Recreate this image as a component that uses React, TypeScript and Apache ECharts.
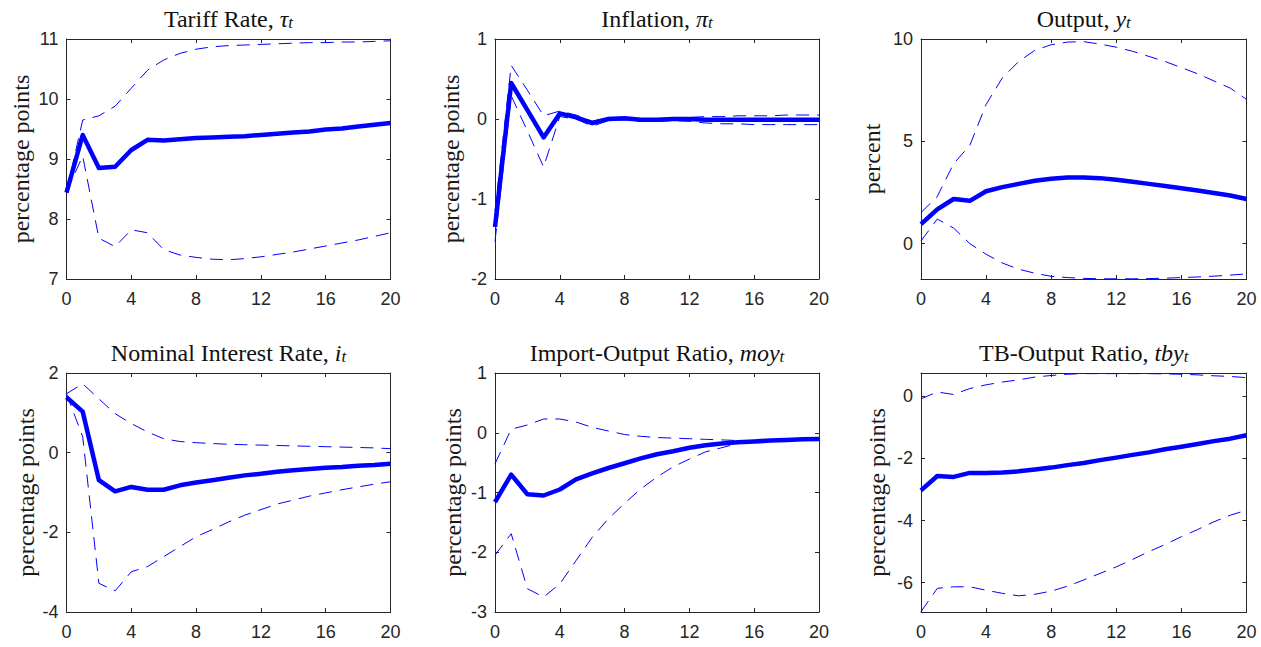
import React, { useEffect, useRef } from "react";
import * as echarts from "echarts";

// Horizon (quarters)
const horizons = [0, 1, 2, 3, 4, 5, 6, 7, 8, 9, 10, 11, 12, 13, 14, 15, 16, 17, 18, 19, 20];

// Tariff rate
const tariffMedian = [8.44, 9.40, 8.85, 8.87, 9.15, 9.32, 9.31, 9.33, 9.35, 9.36, 9.37, 9.38, 9.40, 9.42, 9.44, 9.46, 9.49, 9.51, 9.54, 9.57, 9.60];
const tariffUpper = [8.45, 9.65, 9.72, 9.88, 10.18, 10.48, 10.65, 10.76, 10.83, 10.87, 10.89, 10.90, 10.91, 10.92, 10.93, 10.94, 10.94, 10.95, 10.95, 10.96, 10.97];
const tariffLower = [8.45, 9.05, 7.68, 7.54, 7.82, 7.77, 7.49, 7.40, 7.36, 7.33, 7.32, 7.34, 7.37, 7.41, 7.45, 7.50, 7.55, 7.60, 7.65, 7.71, 7.77];
const tariffTicks = [7, 8, 9, 10, 11];

// Inflation
const inflMedian = [-1.35, 0.45, 0.11, -0.23, 0.07, 0.02, -0.05, 0.0, 0.01, -0.01, -0.01, 0.0, 0.0, -0.01, -0.01, -0.01, -0.01, -0.01, -0.01, -0.01, -0.01];
const inflUpper = [-1.15, 0.67, 0.36, 0.04, 0.1, 0.05, -0.03, 0.02, 0.02, 0.0, 0.0, 0.01, 0.02, 0.03, 0.03, 0.04, 0.04, 0.04, 0.05, 0.05, 0.05];
const inflLower = [-1.53, 0.29, -0.15, -0.6, 0.03, 0.0, -0.09, -0.02, -0.01, -0.03, -0.03, -0.02, -0.03, -0.05, -0.06, -0.06, -0.07, -0.07, -0.07, -0.07, -0.07];
const inflTicks = [-2, -1, 0, 1];

// Output
const outMedian = [0.95, 1.67, 2.18, 2.09, 2.56, 2.76, 2.92, 3.07, 3.17, 3.23, 3.23, 3.20, 3.12, 3.02, 2.92, 2.82, 2.71, 2.60, 2.47, 2.35, 2.18];
const outUpper = [1.52, 2.3, 3.9, 4.8, 6.8, 8.1, 8.9, 9.45, 9.72, 9.85, 9.87, 9.75, 9.6, 9.4, 9.15, 8.9, 8.6, 8.3, 7.95, 7.6, 7.05];
const outLower = [0.13, 1.2, 0.76, 0.0, -0.52, -0.95, -1.25, -1.45, -1.6, -1.66, -1.7, -1.72, -1.72, -1.72, -1.71, -1.69, -1.66, -1.63, -1.59, -1.54, -1.48];
const outTicks = [0, 5, 10];

// Nominal interest rate
const intMedian = [1.39, 1.03, -0.69, -0.97, -0.86, -0.93, -0.93, -0.82, -0.75, -0.69, -0.63, -0.57, -0.53, -0.48, -0.44, -0.41, -0.38, -0.36, -0.33, -0.31, -0.28];
const intUpper = [1.48, 1.73, 1.35, 0.98, 0.73, 0.52, 0.35, 0.28, 0.25, 0.23, 0.21, 0.20, 0.19, 0.18, 0.17, 0.16, 0.15, 0.14, 0.13, 0.12, 0.10];
const intLower = [1.48, 0.4, -3.28, -3.47, -2.99, -2.86, -2.61, -2.36, -2.11, -1.93, -1.74, -1.57, -1.43, -1.29, -1.19, -1.09, -1.01, -0.93, -0.86, -0.79, -0.73];
const intTicks = [-4, -2, 0, 2];

// Import-output ratio
const moyMedian = [-1.16, -0.70, -1.03, -1.05, -0.95, -0.78, -0.68, -0.59, -0.51, -0.43, -0.36, -0.31, -0.25, -0.21, -0.18, -0.16, -0.145, -0.13, -0.12, -0.11, -0.105];
const moyUpper = [-0.52, 0.06, 0.13, 0.23, 0.23, 0.18, 0.09, 0.03, -0.03, -0.06, -0.08, -0.09, -0.10, -0.11, -0.12, -0.13, -0.13, -0.12, -0.11, -0.10, -0.09];
const moyLower = [-2.05, -1.69, -2.61, -2.75, -2.53, -2.14, -1.75, -1.44, -1.18, -0.94, -0.74, -0.57, -0.44, -0.32, -0.25, -0.18, -0.16, -0.14, -0.13, -0.12, -0.11];
const moyTicks = [-3, -2, -1, 0, 1];

// Trade balance-output ratio
const tbyMedian = [-3.03, -2.57, -2.60, -2.47, -2.47, -2.46, -2.42, -2.36, -2.30, -2.22, -2.15, -2.06, -1.98, -1.89, -1.81, -1.71, -1.63, -1.54, -1.45, -1.37, -1.26];
const tbyUpper = [-0.09, 0.13, 0.05, 0.24, 0.36, 0.45, 0.52, 0.61, 0.66, 0.70, 0.72, 0.72, 0.72, 0.72, 0.72, 0.71, 0.70, 0.68, 0.65, 0.63, 0.59];
const tbyLower = [-6.93, -6.18, -6.13, -6.13, -6.24, -6.34, -6.42, -6.37, -6.27, -6.11, -5.91, -5.70, -5.49, -5.25, -5.00, -4.77, -4.52, -4.29, -4.04, -3.83, -3.67];
const tbyTicks = [-6, -4, -2, 0];

const titles = ["Tariff Rate, ", "Inflation, ", "Output, ", "Nominal Interest Rate, ", "Import-Output Ratio, ", "TB-Output Ratio, "];
const symbols = ["τ", "π", "y", "i", "moy", "tby"];
const yLabels = ["percentage points", "percentage points", "percent", "percentage points", "percentage points", "percentage points"];

const panels = [
  { med: tariffMedian, up: tariffUpper, lo: tariffLower, ticks: tariffTicks, min: 7, max: 11 },
  { med: inflMedian, up: inflUpper, lo: inflLower, ticks: inflTicks, min: -2, max: 1 },
  { med: outMedian, up: outUpper, lo: outLower, ticks: outTicks, min: -1.73, max: 10 },
  { med: intMedian, up: intUpper, lo: intLower, ticks: intTicks, min: -4, max: 2 },
  { med: moyMedian, up: moyUpper, lo: moyLower, ticks: moyTicks, min: -3, max: 1 },
  { med: tbyMedian, up: tbyUpper, lo: tbyLower, ticks: tbyTicks, min: -6.94, max: 0.74 },
];

const AXIS = "#262626";
const BLUE = "#0000ff";
const SERIF = "'Liberation Serif', 'Times New Roman', serif";
const SANS = "'Liberation Sans', Arial, Helvetica, sans-serif";

const colLefts = [66.5, 495, 921];
const colWidths = [324, 324, 325.5];
const rowTops = [39, 373];
const rowHeights = [240, 239];
const yLabelX = [[21, 451, 872], [25.5, 453, 877]];

export default function App() {
  const ref = useRef<HTMLDivElement>(null);
  useEffect(() => {
    if (!ref.current) return;
    const chart = echarts.init(ref.current, null, { renderer: "svg" });
    const grids: any[] = [];
    const xAxes: any[] = [];
    const yAxes: any[] = [];
    const series: any[] = [];
    const graphics: any[] = [];
    panels.forEach((p, k) => {
      const r = Math.floor(k / 3);
      const c = k % 3;
      const left = colLefts[c];
      const top = rowTops[r];
      const width = colWidths[c];
      const height = rowHeights[r];
      grids.push({ left, top, width, height, containLabel: false });
      const axisLine = { show: true, onZero: false, lineStyle: { color: AXIS, width: 1 } };
      const tick = { show: true, inside: true, length: 4, lineStyle: { color: AXIS, width: 1 } };
      xAxes.push({
        type: "value", gridIndex: k, position: "bottom", min: 0, max: 20, interval: 4,
        axisLine, axisTick: tick, splitLine: { show: false },
        axisLabel: { show: true, color: AXIS, fontSize: 18, fontFamily: SANS, margin: 11 },
      });
      xAxes.push({
        type: "value", gridIndex: k, position: "top", min: 0, max: 20, interval: 4,
        axisLine, axisTick: tick, splitLine: { show: false }, axisLabel: { show: false },
      });
      yAxes.push({
        type: "value", gridIndex: k, position: "left", min: p.min, max: p.max,
        axisLine, axisTick: { ...tick, customValues: p.ticks }, splitLine: { show: false },
        axisLabel: { show: true, color: AXIS, fontSize: 18, fontFamily: SANS, margin: 8, customValues: p.ticks },
      });
      yAxes.push({
        type: "value", gridIndex: k, position: "right", min: p.min, max: p.max,
        axisLine, axisTick: { ...tick, customValues: p.ticks }, splitLine: { show: false },
        axisLabel: { show: false, customValues: p.ticks },
      });
      const mk = (arr: number[]) => horizons.map((h, i) => [h, arr[i]]);
      series.push({
        type: "line", xAxisIndex: 2 * k, yAxisIndex: 2 * k, data: mk(p.up), symbol: "none",
        lineStyle: { color: BLUE, width: 1, type: [13, 8] }, z: 2, silent: true,
      });
      series.push({
        type: "line", xAxisIndex: 2 * k, yAxisIndex: 2 * k, data: mk(p.lo), symbol: "none",
        lineStyle: { color: BLUE, width: 1, type: [13, 8] }, z: 2, silent: true,
      });
      series.push({
        type: "line", xAxisIndex: 2 * k, yAxisIndex: 2 * k, data: mk(p.med), symbol: "none",
        lineStyle: { color: BLUE, width: 4.5, join: "round" }, z: 3, silent: true,
      });
      graphics.push({
        type: "text",
        x: left + width / 2,
        y: top - 20,
        style: {
          text: `{r|${titles[k]}}{m|${symbols[k]}}{s|t}`,
          align: "center",
          verticalAlign: "middle",
          rich: {
            r: { fontFamily: SERIF, fontSize: 24, fill: "#111", lineHeight: 24 },
            m: { fontFamily: SERIF, fontSize: 24, fontStyle: "italic", fill: "#111", lineHeight: 24 },
            s: { fontFamily: SERIF, fontSize: 17, fontStyle: "italic", fill: "#111", lineHeight: 13, verticalAlign: "bottom" },
          },
        },
      });
      graphics.push({
        type: "text",
        x: yLabelX[r][c],
        y: top + height / 2,
        rotation: Math.PI / 2,
        style: {
          text: yLabels[k],
          fontFamily: SERIF,
          fontSize: 24,
          fill: "#1a1a1a",
          align: "center",
          verticalAlign: "middle",
        },
      });
    });
    chart.setOption({
      animation: false,
      backgroundColor: "#ffffff",
      grid: grids,
      xAxis: xAxes,
      yAxis: yAxes,
      series,
      graphic: graphics,
    });
    return () => chart.dispose();
  }, []);
  return (
    <div
      ref={ref}
      style={{ position: "fixed", left: 0, top: 0, width: 1261, height: 647, background: "#fff" }}
    />
  );
}
